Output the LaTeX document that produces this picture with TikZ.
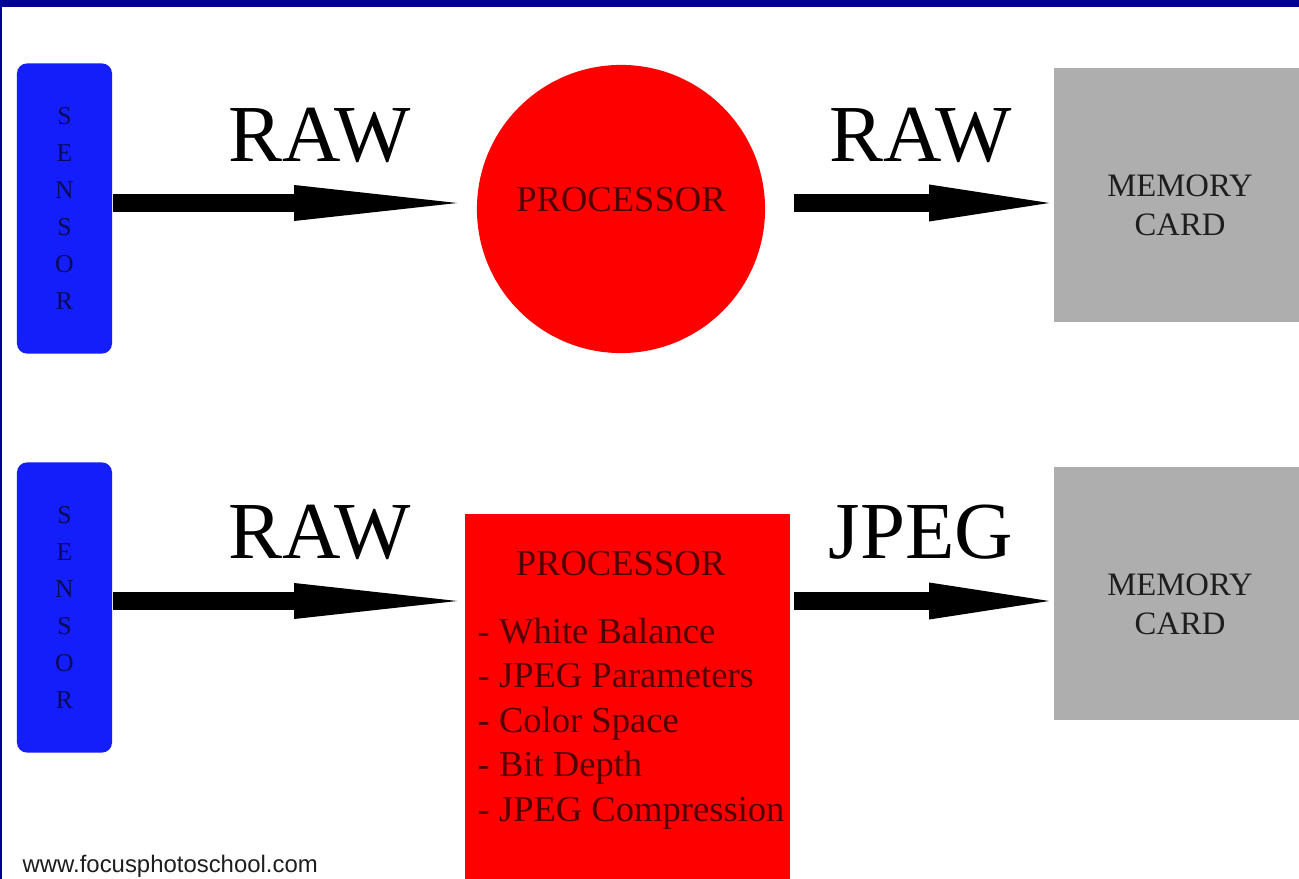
\documentclass[tikz,border=0pt]{standalone}
\usepackage{fontspec}
\setmainfont{Liberation Serif}
\newfontfamily\urlfont{Liberation Sans}
\usetikzlibrary{arrows.meta}

\definecolor{framecol}{RGB}{0,0,153}
\definecolor{sensorcol}{RGB}{20,30,250}
\definecolor{sensortext}{RGB}{10,10,90}
\definecolor{proccol}{RGB}{255,0,0}
\definecolor{proctext}{RGB}{80,0,0}
\definecolor{memcol}{RGB}{174,174,174}
\definecolor{memtext}{RGB}{30,30,30}

\begin{document}
\begin{tikzpicture}[x=0.01cm, y=-0.01cm]
        \tikzstyle{sensor}=[rectangle, rounded corners=1mm, fill=sensorcol, minimum width=0.95cm, minimum height=2.9cm, inner sep=0, text=sensortext, align=center, font=\fontsize{7.3}{10.53}\selectfont]
        \tikzstyle{proc}=[fill=proccol, inner sep=0]
        \tikzstyle{proclabel}=[inner sep=0, text=proctext, font=\fontsize{10.4}{12.66}\selectfont]
        \tikzstyle{memcard}=[rectangle, fill=memcol, minimum width=2.52cm, inner sep=0]
        \tikzstyle{memlabel}=[inner sep=0, align=center, text=memtext, font=\fontsize{9.3}{11.1}\selectfont]
        \tikzstyle{flowlabel}=[inner sep=0, font=\fontsize{23}{27}\selectfont]
        \tikzstyle{longarrow}=[line width=0.17cm, -{Triangle[length=1.63cm, width=0.36cm, line width=0pt]}]
        \tikzstyle{shortarrow}=[line width=0.17cm, -{Triangle[length=1.2cm, width=0.37cm, line width=0pt]}]
        \clip (0,0) rectangle (1299,879);
        \fill[white] (0,0) rectangle (1299,879);
        % raw path
        \node [sensor] (sensorA) at (64.5,208.5) {S\\E\\N\\S\\O\\R};
        \node [proc, circle, minimum size=2.88cm] (procA) at (621,209) {};
        \node [proclabel, anchor=base] (procAtitle) at (621,212) {PROCESSOR};
        \node [memcard, minimum height=2.54cm] (memA) at (1180,195) {};
        \node [memlabel] (memAtext) at (1180,205) {MEMORY\\CARD};
        \node [flowlabel, anchor=base] (rawA) at (319.5,162) {RAW};
        \node [flowlabel, anchor=base] (rawB) at (921,162) {RAW};
        \coordinate (rowA) at (0,203);
        \draw[longarrow, shorten >=0.19cm] (sensorA.east |- rowA) -- (procA.west |- rowA);
        \draw[shortarrow, shorten <=0.28cm, shorten >=0.04cm] (procA.east |- rowA) -- (memA.west |- rowA);
        % jpeg path
        \node [sensor] (sensorB) at (64.5,607.5) {S\\E\\N\\S\\O\\R};
        \node [proc, rectangle, minimum width=3.25cm, minimum height=3.8cm] (procB) at (627.5,704) {};
        \node [proclabel, anchor=base] (procBtitle) at (620.5,575) {PROCESSOR};
        \node [proclabel, align=left, anchor=north west] (procBlist) at (477,617) {- White Balance\\- JPEG Parameters\\- Color Space\\- Bit Depth\\- JPEG Compression};
        \node [memcard, minimum height=2.53cm] (memB) at (1180,593.5) {};
        \node [memlabel] (memBtext) at (1180,604) {MEMORY\\CARD};
        \node [flowlabel, anchor=base] (rawC) at (319.5,558) {RAW};
        \node [flowlabel, anchor=base] (jpegB) at (921,558) {JPEG};
        \coordinate (rowB) at (0,601);
        \draw[longarrow, shorten >=0.07cm] (sensorB.east |- rowB) -- (procB.west |- rowB);
        \draw[shortarrow, shorten <=0.03cm, shorten >=0.04cm] (procB.east |- rowB) -- (memB.west |- rowB);
        \node [inner sep=0, anchor=base west, text=memtext, font=\urlfont\fontsize{6.8}{8}\selectfont] (site) at (22,872) {www.focusphotoschool.com};
        % frame
        \fill[framecol] (0,0) rectangle (1299,7);
        \fill[framecol] (0,0) rectangle (2,879);
      \end{tikzpicture}
\end{document}
